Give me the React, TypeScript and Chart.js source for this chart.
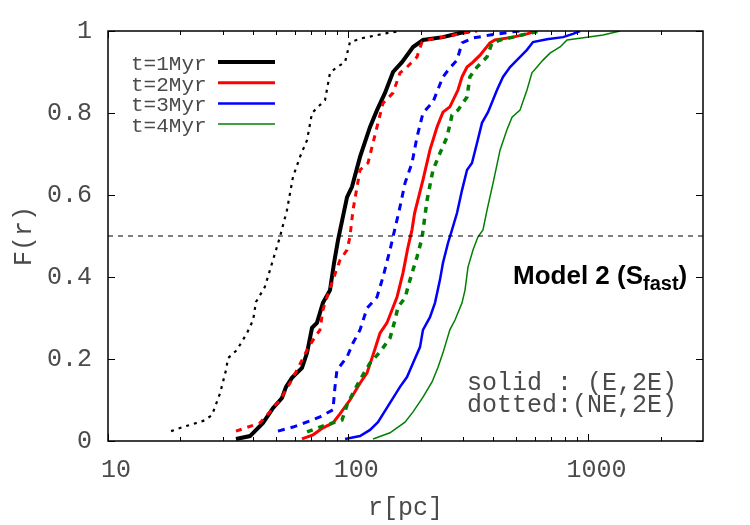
import React, { useEffect, useRef } from 'react';
import { Chart, registerables } from 'chart.js';

Chart.register(...registerables);

// ---- data (r in pc, F(r)) ----
const r1E = [34.1, 39.0, 44.2, 48.6, 53.0, 55.1, 58.3, 64.2, 67.4, 70.7, 74.1, 78.5, 84.0, 87.3, 90.7, 98.9, 103.7, 112, 123.3, 131.8, 142.3, 153.7, 167.5, 186.2, 204.9, 248, 292, 321];
const F1E = [0.005, 0.012, 0.044, 0.080, 0.105, 0.132, 0.154, 0.178, 0.215, 0.276, 0.288, 0.337, 0.368, 0.434, 0.490, 0.595, 0.620, 0.693, 0.766, 0.807, 0.849, 0.900, 0.924, 0.961, 0.978, 0.985, 0.995, 1.0];

const r2E = [64.2, 71.4, 78.5, 86.4, 92.4, 101.7, 112, 119.8, 126.9, 135.6, 145, 159.7, 169.1, 177.4, 184.3, 189, 204.8, 219, 234.3, 248, 265, 286.4, 297.8, 312.4, 330.8, 354, 389, 408, 485, 555, 611];
const F2E = [0.005, 0.015, 0.032, 0.044, 0.066, 0.100, 0.141, 0.166, 0.210, 0.263, 0.288, 0.351, 0.410, 0.473, 0.515, 0.556, 0.637, 0.710, 0.766, 0.802, 0.815, 0.856, 0.888, 0.912, 0.924, 0.941, 0.971, 0.978, 0.985, 0.993, 1.0];

const r3E = [97.0, 112, 123.3, 133, 149.3, 164.3, 175.7, 186.2, 199, 204.8, 219, 229.8, 241, 248, 260.3, 270.5, 283.8, 297.8, 312.4, 327.6, 343.8, 360.6, 382, 416.4, 441, 472, 504, 555, 588, 672, 784, 863, 923];
const F3E = [0.005, 0.012, 0.027, 0.046, 0.093, 0.132, 0.156, 0.190, 0.229, 0.271, 0.302, 0.337, 0.393, 0.434, 0.483, 0.515, 0.556, 0.612, 0.661, 0.678, 0.727, 0.776, 0.802, 0.856, 0.888, 0.912, 0.929, 0.954, 0.973, 0.980, 0.985, 0.993, 1.0];

const r4E = [126.9, 149.3, 172.4, 186.2, 204.8, 223.4, 236.6, 248, 265, 278.4, 297.8, 306.4, 315.3, 330.8, 347, 364, 378.4, 400.9, 429, 458, 481, 519, 555, 582, 611, 647, 692, 762, 815, 987, 1150, 1354];
const F4E = [0.005, 0.020, 0.046, 0.071, 0.107, 0.144, 0.180, 0.215, 0.271, 0.295, 0.337, 0.368, 0.424, 0.466, 0.498, 0.515, 0.563, 0.629, 0.710, 0.759, 0.790, 0.807, 0.856, 0.898, 0.912, 0.929, 0.946, 0.961, 0.978, 0.985, 0.990, 1.0];

const r1NE = [18.3, 20.5, 24.9, 27.1, 29.3, 31.0, 31.6, 34.4, 37.9, 40.2, 41.3, 45.0, 48.6, 52.0, 55.6, 58.9, 63.0, 67.4, 70.7, 74.1, 80.1, 84.0, 89.8, 97.0, 101.7, 115.2, 139.6, 164.3];
const F1NE = [0.024, 0.034, 0.049, 0.063, 0.117, 0.173, 0.202, 0.222, 0.263, 0.295, 0.339, 0.376, 0.441, 0.498, 0.563, 0.644, 0.693, 0.734, 0.800, 0.812, 0.832, 0.898, 0.912, 0.924, 0.973, 0.983, 0.993, 1.0];

const r2NE = [34.1, 42.9, 47.2, 52.0, 57.2, 61.2, 67.4, 71.4, 76.3, 78.5, 81.6, 86.4, 92.4, 98.9, 101.7, 104.7, 112, 120.9, 131.8, 139.6, 153.7, 164.3, 175.7, 193.4, 202.9, 213, 248, 300.6, 344];
const F2NE = [0.024, 0.044, 0.071, 0.100, 0.141, 0.173, 0.222, 0.246, 0.271, 0.320, 0.351, 0.393, 0.441, 0.466, 0.498, 0.563, 0.661, 0.678, 0.766, 0.824, 0.849, 0.898, 0.912, 0.937, 0.973, 0.978, 0.985, 0.995, 1.0];

const r3NE = [51.0, 58.9, 69.3, 76.3, 86.4, 88.1, 89.8, 98.9, 104.7, 112, 119.8, 131.8, 139.6, 149.3, 153.7, 164.3, 172.4, 184.3, 193.4, 204.8, 225.4, 248, 265, 283.8, 297.8, 330.8, 389, 485, 519];
const F3NE = [0.024, 0.034, 0.049, 0.059, 0.076, 0.132, 0.173, 0.205, 0.239, 0.271, 0.324, 0.351, 0.400, 0.466, 0.498, 0.571, 0.629, 0.678, 0.741, 0.800, 0.827, 0.888, 0.910, 0.929, 0.971, 0.983, 0.990, 0.998, 1.0];

const r4NE = [67.4, 76.3, 88.1, 94.2, 98.9, 104.7, 112, 123.3, 135.6, 149.3, 156.6, 161.2, 172.4, 180.8, 193.4, 202.9, 213, 225.4, 241, 257.8, 270.5, 286.4, 312.4, 321, 343.8, 378.4, 396.9, 429, 485, 555, 629];
const F4NE = [0.022, 0.034, 0.046, 0.051, 0.088, 0.117, 0.149, 0.190, 0.217, 0.251, 0.295, 0.327, 0.349, 0.393, 0.449, 0.495, 0.588, 0.661, 0.702, 0.741, 0.795, 0.807, 0.839, 0.888, 0.912, 0.937, 0.971, 0.978, 0.985, 0.993, 1.0];

const halfX = [10, 3000];
const halfY = [0.5, 0.5];

const legendLabels = ['t=1Myr', 't=2Myr', 't=3Myr', 't=4Myr'];
const xLabelTicks = [10, 100, 1000];
const xMinorTicks = [20, 30, 40, 50, 60, 70, 80, 90, 200, 300, 400, 500, 600, 700, 800, 900, 2000];
const yTicks = [0, 0.2, 0.4, 0.6, 0.8, 1];
const noteLines = ['solid : (E,2E)', 'dotted:(NE,2E)'];
const modelMain = 'Model 2 (S';
const modelSub = 'fast';
const modelEnd = ')';

const COLORS = ['#000000', '#ff0000', '#0000ff', '#008000'];
const MONO = "'Liberation Mono', 'DejaVu Sans Mono', monospace";
const SANS = "'Liberation Sans', Arial, sans-serif";
const TEXT = '#4a4a4a';

const pts = (xs: number[], ys: number[]) => xs.map((x, i) => ({ x, y: ys[i] }));

const framePlugin = {
  id: 'frameTicks',
  afterDatasetsDraw(chart: any) {
    const { ctx, chartArea, scales } = chart;
    const { left, right, top, bottom } = chartArea;
    const xs = scales.x;
    const ys = scales.y;
    ctx.save();
    ctx.strokeStyle = '#000';
    ctx.lineWidth = 1;
    const seg = (x1: number, y1: number, x2: number, y2: number) => {
      ctx.beginPath();
      ctx.moveTo(x1, y1);
      ctx.lineTo(x2, y2);
      ctx.stroke();
    };
    for (const v of xLabelTicks) {
      const p = Math.round(xs.getPixelForValue(v)) + 0.5;
      seg(p, bottom, p, bottom - 7);
      seg(p, top, p, top + 7);
    }
    for (const v of xMinorTicks) {
      const p = Math.round(xs.getPixelForValue(v)) + 0.5;
      seg(p, bottom, p, bottom - 4);
      seg(p, top, p, top + 4);
    }
    for (const v of yTicks) {
      const p = Math.round(ys.getPixelForValue(v)) + 0.5;
      seg(left, p, left + 7, p);
      seg(right, p, right - 7, p);
    }
    ctx.lineWidth = 1.5;
    ctx.strokeRect(left, top, right - left, bottom - top);

    // legend (labels left, line samples right)
    ctx.font = `21px ${MONO}`;
    ctx.textBaseline = 'alphabetic';
    ctx.textAlign = 'left';
    const widths = [4, 3, 2.5, 1.5];
    legendLabels.forEach((lab, i) => {
      const yC = top + 31 + i * 20.7;
      ctx.fillStyle = TEXT;
      ctx.fillText(lab, left + 23, yC + 8);
      ctx.strokeStyle = COLORS[i];
      ctx.lineWidth = widths[i];
      ctx.setLineDash([]);
      seg(left + 110, yC, left + 167, yC);
    });

    // annotations
    ctx.fillStyle = '#000';
    ctx.font = `bold 26px ${SANS}`;
    let x0 = left + 405;
    const base = top + 253;
    ctx.fillText(modelMain, x0, base);
    x0 += ctx.measureText(modelMain).width;
    ctx.font = `bold 20px ${SANS}`;
    ctx.fillText(modelSub, x0, base + 6);
    x0 += ctx.measureText(modelSub).width;
    ctx.font = `bold 26px ${SANS}`;
    ctx.fillText(modelEnd, x0, base);

    ctx.font = `25px ${MONO}`;
    ctx.fillStyle = TEXT;
    noteLines.forEach((t, i) => {
      ctx.fillText(t, left + 359, top + 359 + i * 22);
    });
    ctx.restore();
  },
};

export default function App() {
  const ref = useRef<HTMLCanvasElement | null>(null);
  useEffect(() => {
    if (!ref.current) return;
    const series = (lab: string, xs: number[], ys: number[], color: string, w: number, dash: number[]) => ({
      label: lab, data: pts(xs, ys), borderColor: color, borderWidth: w, borderDash: dash,
      pointRadius: 0, fill: false, tension: 0,
    });
    const chart = new Chart(ref.current, {
      type: 'line',
      data: {
        datasets: [
          series('half', halfX, halfY, '#000', 1.2, [5, 5]),
          series('t=1Myr NE', r1NE, F1NE, COLORS[0], 2.2, [3, 5]),
          series('t=2Myr NE', r2NE, F2NE, COLORS[1], 3, [6, 6]),
          series('t=3Myr NE', r3NE, F3NE, COLORS[2], 3, [7, 6]),
          series('t=4Myr NE', r4NE, F4NE, COLORS[3], 3.5, [6, 6]),
          series('t=1Myr', r1E, F1E, COLORS[0], 4, []),
          series('t=2Myr', r2E, F2E, COLORS[1], 3, []),
          series('t=3Myr', r3E, F3E, COLORS[2], 2.5, []),
          series('t=4Myr', r4E, F4E, COLORS[3], 1.5, []),
        ],
      },
      options: {
        animation: false,
        responsive: false,
        devicePixelRatio: 1,
        layout: { padding: { top: 31, right: 47, left: 0, bottom: 0 } },
        plugins: { legend: { display: false }, tooltip: { enabled: false } },
        scales: {
          x: {
            type: 'logarithmic',
            min: 10,
            max: 3000,
            grid: { display: false, drawTicks: false },
            border: { display: false },
            afterBuildTicks: (s: any) => { s.ticks = xLabelTicks.map((v) => ({ value: v })); },
            afterFit: (s: any) => { s.height = 84; },
            ticks: {
              autoSkip: false,
              maxRotation: 0,
              padding: 14,
              labelOffset: 8,
              color: TEXT,
              font: { family: MONO, size: 25 },
              callback: (v: any) => String(v),
            },
            title: {
              display: true,
              text: 'r[pc]',
              color: TEXT,
              font: { family: MONO, size: 25 },
              padding: { top: 0, bottom: 2 },
            },
          },
          y: {
            type: 'linear',
            min: 0,
            max: 1,
            grid: { display: false, drawTicks: false },
            border: { display: false },
            afterBuildTicks: (s: any) => { s.ticks = yTicks.map((v) => ({ value: v })); },
            afterFit: (s: any) => { s.width = 108; },
            ticks: {
              padding: 16,
              color: TEXT,
              font: { family: MONO, size: 25 },
              callback: (v: any) => String(Number(Number(v).toFixed(1))),
            },
            title: {
              display: true,
              text: 'F(r)',
              color: TEXT,
              font: { family: MONO, size: 25 },
              padding: { top: 9, bottom: 0 },
            },
          },
        },
      },
      plugins: [framePlugin],
    } as any);
    return () => chart.destroy();
  }, []);
  return (
    <canvas
      ref={ref}
      width={750}
      height={525}
      style={{ position: 'absolute', left: 0, top: 0, width: 750, height: 525, background: '#fff' }}
    />
  );
}
